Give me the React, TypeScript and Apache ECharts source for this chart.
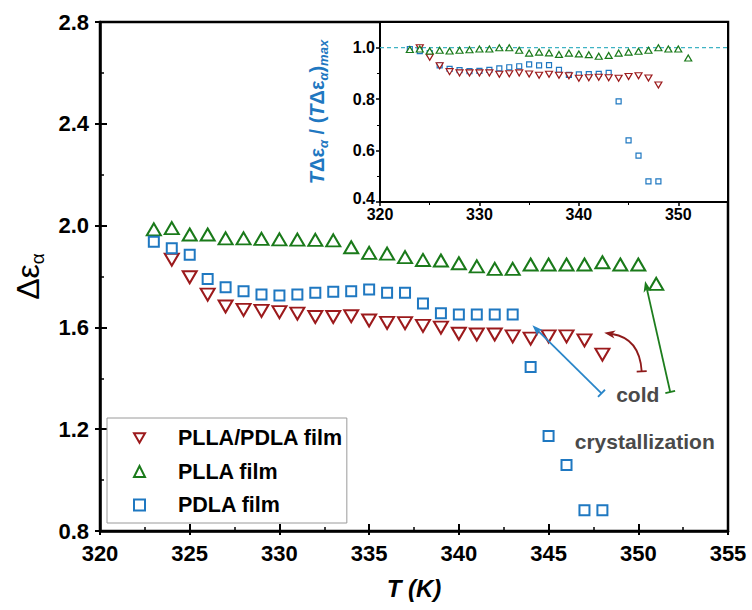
import React, { useEffect, useRef } from "react";
import * as echarts from "echarts";

const FONT = "'Liberation Sans', Arial, sans-serif";

// ---- main panel data (Δε_α vs T) ----
const blendT = [324, 325, 326, 327, 328, 329, 330, 331, 332, 333, 334, 335, 336, 337, 338, 339, 340, 341, 342, 343, 344, 345, 346, 347, 348];
const blendMain = [1.866, 1.797, 1.729, 1.682, 1.669, 1.665, 1.66, 1.654, 1.641, 1.641, 1.644, 1.627, 1.618, 1.617, 1.606, 1.599, 1.575, 1.572, 1.572, 1.565, 1.556, 1.565, 1.565, 1.549, 1.493];

const pllaT = [323, 324, 325, 326, 327, 328, 329, 330, 331, 332, 333, 334, 335, 336, 337, 338, 339, 340, 341, 342, 343, 344, 345, 346, 347, 348, 349, 350, 351];
const pllaMain = [1.985, 1.99, 1.965, 1.965, 1.95, 1.95, 1.948, 1.946, 1.945, 1.944, 1.942, 1.915, 1.893, 1.89, 1.876, 1.865, 1.863, 1.852, 1.84, 1.83, 1.83, 1.847, 1.847, 1.847, 1.847, 1.856, 1.847, 1.847, 1.771];

const pdlaT = [323, 324, 325, 326, 327, 328, 329, 330, 331, 332, 333, 334, 335, 336, 337, 338, 339, 340, 341, 342, 343, 344, 345, 346, 347, 348];
const pdlaMain = [1.937, 1.911, 1.885, 1.79, 1.758, 1.742, 1.729, 1.725, 1.729, 1.736, 1.74, 1.742, 1.749, 1.736, 1.736, 1.694, 1.656, 1.651, 1.651, 1.651, 1.651, 1.444, 1.173, 1.059, 0.882, 0.882];

// ---- inset data (TΔε_α / (TΔε_α)max) ----
const blendInset = [1.0, 0.963, 0.93, 0.907, 0.902, 0.902, 0.902, 0.902, 0.897, 0.899, 0.902, 0.898, 0.893, 0.897, 0.893, 0.891, 0.881, 0.883, 0.885, 0.883, 0.881, 0.888, 0.891, 0.882, 0.855];
const pllaInset = [0.993, 0.995, 0.987, 0.99, 0.987, 0.99, 0.992, 0.995, 0.995, 1.0, 1.0, 0.99, 0.979, 0.983, 0.98, 0.974, 0.979, 0.976, 0.973, 0.967, 0.97, 0.979, 0.983, 0.986, 0.99, 1.0, 0.995, 0.995, 0.96];
const pdlaInset = [0.995, 0.987, 0.979, 0.931, 0.918, 0.913, 0.909, 0.91, 0.914, 0.92, 0.924, 0.928, 0.935, 0.931, 0.932, 0.914, 0.894, 0.896, 0.897, 0.898, 0.902, 0.791, 0.64, 0.58, 0.48, 0.48];

// reference level (dashed) in the inset
const insetRefT = [320, 355];
const insetRefLevel = [1.0, 1.0];

const seriesNames = ["PLLA/PDLA film", "PLLA film", "PDLA film"];

// ---- annotations, in main-panel data coordinates: [start(bar), end(arrow tip)] ----
const blueArrow = [[347.95, 1.341], [344.1, 1.608]];
const greenArrow = [[351.78, 1.346], [350.38, 1.782]];
const redCurve = [[350.19, 1.427], [350.08, 1.557], [348.1, 1.579]]; // start, control, tip
const annotTexts = [
  { text: "cold", at: [349.97, 1.337] },
  { text: "crystallization", at: [350.36, 1.153] },
];

const RED = "#9c1a1c";
const GREEN = "#1a7a1a";
const BLUE = "#1f78c1";
const ARROW_RED = "#8e1a1a";
const ARROW_GREEN = "#1d7d1d";
const ARROW_BLUE = "#2a86c9";
const DASH = "#3fb3c4";

const DOWN_TRIANGLE = "path://M0,0 L10,0 L5,8.7 Z";

const pairs = (xs: number[], ys: number[]) => xs.map((x, i) => [x, ys[i]]);

export default function App() {
  const ref = useRef<HTMLDivElement>(null);

  useEffect(() => {
    const chart = echarts.init(ref.current!, null, { renderer: "svg" });

    const mainLabel = { fontSize: 22, fontWeight: "bold", color: "#000", fontFamily: FONT };
    const insetLabel = { fontSize: 16, fontWeight: "bold", color: "#000", fontFamily: FONT };

    const option: any = {
      animation: false,
      textStyle: { fontFamily: FONT },
      grid: [
        { left: 100, right: 24, top: 22, bottom: 79, show: true, borderColor: "#000", borderWidth: 2.5, outerBoundsMode: "none" },
        { left: 380, right: 24, top: 22, height: 180, show: true, backgroundColor: "#fff", borderColor: "#000", borderWidth: 2, outerBoundsMode: "none", z: 5 },
      ],
      xAxis: [
        {
          gridIndex: 0, type: "value", position: "bottom", min: 320, max: 355, interval: 5,
          axisLine: { show: true, onZero: false, lineStyle: { color: "#000", width: 2.5 } },
          axisTick: { show: true, inside: true, length: 7, lineStyle: { color: "#000", width: 2 } },
          minorTick: { show: true, splitNumber: 2, length: 4, lineStyle: { color: "#000", width: 1.5 } },
          axisLabel: { ...mainLabel, margin: 11 },
          splitLine: { show: false },
          name: "T (K)", nameLocation: "middle", nameGap: 45,
          nameTextStyle: { fontSize: 24, fontWeight: "bold", fontStyle: "italic", color: "#000", fontFamily: FONT },
        },
        {
          gridIndex: 1, type: "value", position: "bottom", min: 320, max: 355, interval: 10,
          axisLine: { show: true, onZero: false, lineStyle: { color: "#000", width: 2 } },
          axisTick: { show: true, inside: false, length: 4, lineStyle: { color: "#000", width: 1.5 } },
          minorTick: { show: true, splitNumber: 2, length: 3, lineStyle: { color: "#000", width: 1 } },
          axisLabel: { ...insetLabel, margin: 4, showMaxLabel: false },
          splitLine: { show: false },
        },
        {
          gridIndex: 0, type: "value", position: "bottom", min: 320, max: 355, interval: 5,
          axisLine: { show: false, onZero: false },
          axisTick: { show: true, inside: false, length: 4, lineStyle: { color: "#000", width: 2 } },
          axisLabel: { show: false }, splitLine: { show: false },
        },
      ],
      yAxis: [
        {
          gridIndex: 0, type: "value", position: "left", min: 0.8, max: 2.8, interval: 0.4,
          axisLine: { show: true, onZero: false, lineStyle: { color: "#000", width: 2.5 } },
          axisTick: { show: true, inside: true, length: 7, lineStyle: { color: "#000", width: 2 } },
          minorTick: { show: true, splitNumber: 2, length: 4, lineStyle: { color: "#000", width: 1.5 } },
          axisLabel: { ...mainLabel, margin: 11, formatter: (v: number) => v.toFixed(1) },
          splitLine: { show: false },
          name: "{d|Δε}{s|α}", nameLocation: "middle", nameRotate: 90, nameGap: 53,
          nameTextStyle: {
            color: "#000",
            rich: {
              d: { fontSize: 32, fontFamily: FONT, color: "#000", lineHeight: 38 },
              s: { fontSize: 19, fontFamily: FONT, color: "#000", lineHeight: 38, verticalAlign: "bottom", padding: [12, 0, 0, 0] },
            },
          },
        },
        {
          gridIndex: 1, type: "value", position: "left", min: 0.4, max: 1.1, interval: 0.2,
          axisLine: { show: true, onZero: false, lineStyle: { color: "#000", width: 2 } },
          axisTick: { show: true, inside: false, length: 4, lineStyle: { color: "#000", width: 1.5 } },
          minorTick: { show: true, splitNumber: 2, length: 3, lineStyle: { color: "#000", width: 1 } },
          axisLabel: {
            ...insetLabel, margin: 5, showMaxLabel: false,
            formatter: (v: number) => (v < 0.45 ? "{lo|" + v.toFixed(1) + "}" : v.toFixed(1)),
            rich: { lo: { ...insetLabel, padding: [0, 0, 8, 0] } },
          },
          splitLine: { show: false },
          name: "{t|T}{d|Δε}{s|α}{n| / (}{t|T}{d|Δε}{s|α}{n|)}{m|max}",
          nameLocation: "middle", nameRotate: 90, nameGap: 50,
          nameTextStyle: {
            color: BLUE,
            rich: {
              t: { fontSize: 20, fontWeight: "bold", fontStyle: "italic", fontFamily: FONT, color: BLUE, lineHeight: 26 },
              d: { fontSize: 20, fontWeight: "bold", fontFamily: FONT, color: BLUE, lineHeight: 26 },
              n: { fontSize: 20, fontWeight: "bold", fontFamily: FONT, color: BLUE, lineHeight: 26 },
              s: { fontSize: 13, fontWeight: "bold", fontStyle: "italic", fontFamily: FONT, color: BLUE, lineHeight: 26, verticalAlign: "bottom" },
              m: { fontSize: 13, fontWeight: "bold", fontStyle: "italic", fontFamily: FONT, color: BLUE, lineHeight: 26, verticalAlign: "bottom" },
            },
          },
        },
        {
          gridIndex: 0, type: "value", position: "left", min: 0.8, max: 2.8, interval: 0.4,
          axisLine: { show: false, onZero: false },
          axisTick: { show: true, inside: false, length: 5, lineStyle: { color: "#000", width: 2 } },
          axisLabel: { show: false }, splitLine: { show: false },
        },
      ],
      legend: {
        orient: "vertical", left: 107, top: 418,
        data: [
          { name: seriesNames[0], icon: DOWN_TRIANGLE, itemStyle: { color: "#fff", borderColor: RED, borderWidth: 2 } },
          { name: seriesNames[1] },
          { name: seriesNames[2] },
        ],
        itemWidth: 11, itemHeight: 11, itemGap: 9.5,
        padding: [8, 4, 6, 26],
        borderColor: "#9a9a9a", borderWidth: 1, backgroundColor: "#fff",
        textStyle: { fontSize: 21.5, fontWeight: "bold", color: "#000", fontFamily: FONT, lineHeight: 24, padding: [0, 0, 0, 28] },
        selectedMode: false,
      },
      series: [
        {
          name: seriesNames[0], type: "scatter", xAxisIndex: 0, yAxisIndex: 0,
          data: pairs(blendT, blendMain), symbol: "triangle", symbolRotate: 180, symbolSize: [14, 12],
          itemStyle: { color: "#fff", borderColor: RED, borderWidth: 2, opacity: 1 },
        },
        {
          name: seriesNames[1], type: "scatter", xAxisIndex: 0, yAxisIndex: 0,
          data: pairs(pllaT, pllaMain), symbol: "triangle", symbolSize: [14, 12],
          itemStyle: { color: "#fff", borderColor: GREEN, borderWidth: 2, opacity: 1 },
        },
        {
          name: seriesNames[2], type: "scatter", xAxisIndex: 0, yAxisIndex: 0,
          data: pairs(pdlaT, pdlaMain), symbol: "rect", symbolSize: 10,
          itemStyle: { color: "#fff", borderColor: BLUE, borderWidth: 2, opacity: 1 },
        },
        {
          name: "inset-ref", type: "line", xAxisIndex: 1, yAxisIndex: 1, z: 6,
          data: pairs(insetRefT, insetRefLevel), symbol: "none", silent: true,
          lineStyle: { color: DASH, type: [4, 3], width: 1.2 },
          itemStyle: { color: DASH },
        },
        {
          name: "inset-pdla", type: "scatter", xAxisIndex: 1, yAxisIndex: 1, z: 7,
          data: pairs(pdlaT, pdlaInset), symbol: "rect", symbolSize: 5,
          itemStyle: { color: "#fff", borderColor: BLUE, borderWidth: 1.2, opacity: 1 },
        },
        {
          name: "inset-blend", type: "scatter", xAxisIndex: 1, yAxisIndex: 1, z: 7,
          data: pairs(blendT, blendInset), symbol: "triangle", symbolRotate: 180, symbolSize: [7, 6],
          itemStyle: { color: "#fff", borderColor: RED, borderWidth: 1.2, opacity: 1 },
        },
        {
          name: "inset-plla", type: "scatter", xAxisIndex: 1, yAxisIndex: 1, z: 7,
          data: pairs(pllaT, pllaInset), symbol: "triangle", symbolSize: [7, 6],
          itemStyle: { color: "#fff", borderColor: GREEN, borderWidth: 1.2, opacity: 1 },
        },
      ],
    };

    chart.setOption(option);

    const px = (p: number[]) => chart.convertToPixel({ gridIndex: 0 } as any, p) as number[];
    const graphics: any[] = [];

    const arrowHead = (tip: number[], from: number[], color: string) => {
      const dx = tip[0] - from[0];
      const dy = tip[1] - from[1];
      const len = Math.hypot(dx, dy) || 1;
      const ux = dx / len, uy = dy / len;
      const nx = -uy, ny = ux;
      const L = 11, W = 4, notch = 3;
      graphics.push({
        type: "polygon", z: 100,
        shape: {
          points: [
            [tip[0], tip[1]],
            [tip[0] - ux * L + nx * W, tip[1] - uy * L + ny * W],
            [tip[0] - ux * (L - notch), tip[1] - uy * (L - notch)],
            [tip[0] - ux * L - nx * W, tip[1] - uy * L - ny * W],
          ],
        },
        style: { fill: color, stroke: null },
      });
      return [tip[0] - ux * (L - notch), tip[1] - uy * (L - notch)];
    };
    const bar = (p: number[], toward: number[], color: string) => {
      const dx = toward[0] - p[0];
      const dy = toward[1] - p[1];
      const len = Math.hypot(dx, dy) || 1;
      const nx = -dy / len, ny = dx / len;
      const h = 5;
      graphics.push({
        type: "line", z: 100,
        shape: { x1: p[0] + nx * h, y1: p[1] + ny * h, x2: p[0] - nx * h, y2: p[1] - ny * h },
        style: { stroke: color, lineWidth: 1.8 },
      });
    };
    const straight = (a: number[][], color: string) => {
      const s = px(a[0]);
      const t = px(a[1]);
      bar(s, t, color);
      const base = arrowHead(t, s, color);
      graphics.push({
        type: "line", z: 100,
        shape: { x1: s[0], y1: s[1], x2: base[0], y2: base[1] },
        style: { stroke: color, lineWidth: 1.8 },
      });
    };
    straight(blueArrow, ARROW_BLUE);
    straight(greenArrow, ARROW_GREEN);
    {
      const s = px(redCurve[0]);
      const c = px(redCurve[1]);
      const t = px(redCurve[2]);
      bar(s, c, ARROW_RED);
      const base = arrowHead(t, c, ARROW_RED);
      graphics.push({
        type: "bezierCurve", z: 100,
        shape: { x1: s[0], y1: s[1], cpx1: c[0], cpy1: c[1], x2: base[0], y2: base[1] },
        style: { stroke: ARROW_RED, lineWidth: 1.8, fill: null },
      });
    }
    annotTexts.forEach((a) => {
      const p = px(a.at);
      graphics.push({
        type: "text", z: 100, x: p[0], y: p[1],
        style: {
          text: a.text, fill: "#4a4a4a", fontSize: 21, fontWeight: "bold", fontFamily: FONT,
          align: "center", verticalAlign: "middle",
        },
      });
    });

    chart.setOption({ graphic: graphics });

    return () => chart.dispose();
  }, []);

  return <div ref={ref} style={{ position: "fixed", left: 0, top: 0, width: 752, height: 610, background: "#fff" }} />;
}
